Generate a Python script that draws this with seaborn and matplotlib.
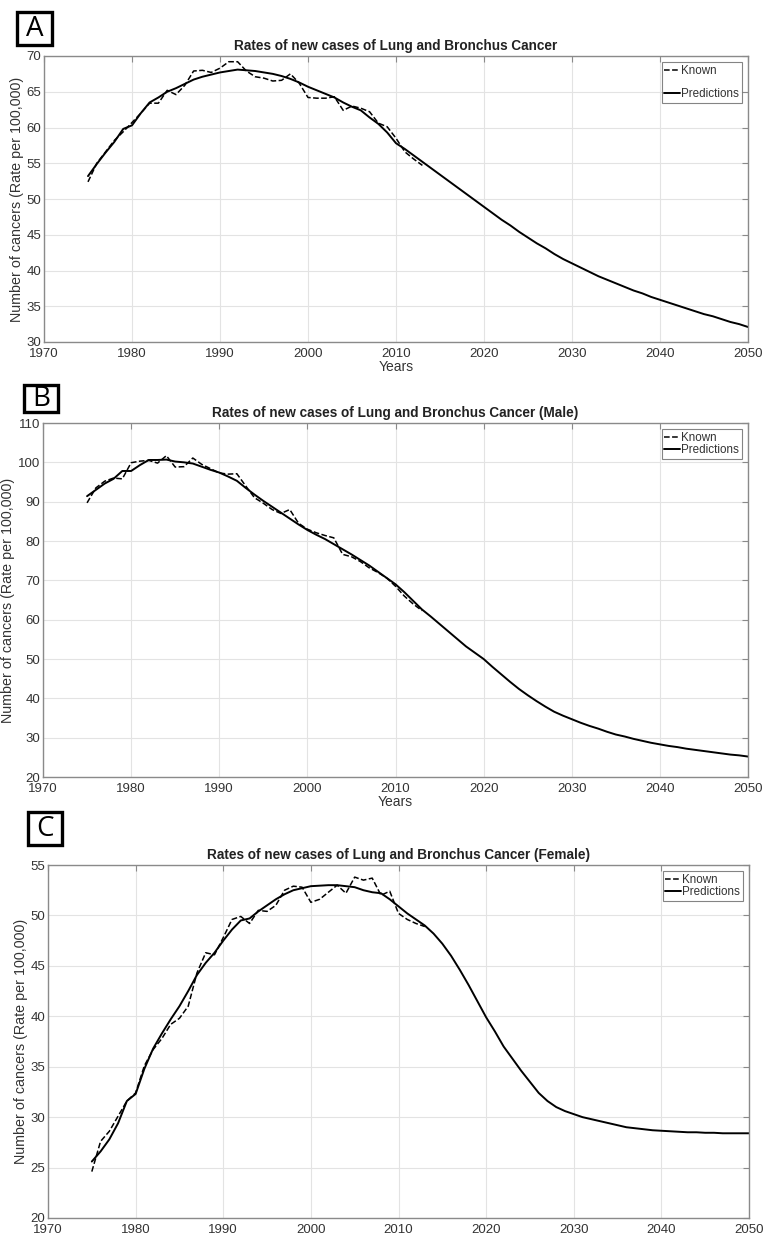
import numpy as np
import pandas as pd
import matplotlib
matplotlib.use("Agg")
import matplotlib.pyplot as plt
from matplotlib.patches import Rectangle
import seaborn as sns

# ---------------- data ----------------
known_years = list(range(1975, 2014))
pred_years = list(range(1975, 2051))

a_known = [52.4, 55.0, 56.6, 58.2, 59.4, 60.7, 62.0, 63.4, 63.4, 65.2,
           64.6, 65.9, 67.9, 68.0, 67.7, 68.3, 69.2, 69.2, 67.9, 67.1,
           66.9, 66.5, 66.6, 67.5, 66.2, 64.2, 64.1, 64.1, 64.3, 62.4,
           63.0, 62.7, 62.2, 60.6, 60.1, 58.5, 56.6, 55.6, 54.7]
a_pred = [53.2, 54.9, 56.5, 58.0, 59.8, 60.3, 62.0, 63.5, 64.2, 65.0,
          65.5, 66.1, 66.7, 67.1, 67.4, 67.7, 67.9, 68.1, 68.0, 67.9,
          67.7, 67.5, 67.2, 66.8, 66.3, 65.7, 65.2, 64.7, 64.2, 63.5,
          62.9, 62.4, 61.4, 60.5, 59.3, 57.8, 57.0, 56.1, 55.2, 54.3,
          53.4, 52.5, 51.6, 50.7, 49.8, 48.9, 48.0, 47.1, 46.3, 45.4,
          44.6, 43.8, 43.1, 42.3, 41.6, 41.0, 40.4, 39.8, 39.2, 38.7,
          38.2, 37.7, 37.2, 36.8, 36.3, 35.9, 35.5, 35.1, 34.7, 34.3,
          33.9, 33.6, 33.2, 32.8, 32.5, 32.1]

b_known = [89.7, 93.5, 95.2, 96.0, 95.8, 99.9, 100.3, 100.5, 99.8, 101.7,
           98.8, 98.9, 101.1, 99.5, 98.4, 97.3, 97.0, 97.1, 94.0, 91.0,
           89.6, 88.0, 87.0, 88.0, 84.5, 83.0, 82.1, 81.4, 80.8, 76.6,
           76.0, 74.8, 73.2, 72.0, 70.6, 68.5, 66.0, 64.0, 62.3]
b_pred = [91.4, 93.0, 94.6, 95.8, 97.8, 97.8, 99.3, 100.6, 100.6, 100.7,
          100.2, 100.0, 99.7, 98.9, 98.1, 97.4, 96.4, 95.3, 93.5, 91.8,
          90.2, 88.7, 87.2, 85.7, 84.2, 82.8, 81.6, 80.5, 79.2, 77.9,
          76.6, 75.2, 73.8, 72.2, 70.6, 69.0, 67.0, 64.8, 62.6, 60.8,
          58.9, 57.0, 55.1, 53.2, 51.6, 50.0, 48.0, 46.1, 44.2, 42.4,
          40.8, 39.3, 37.9, 36.6, 35.6, 34.7, 33.8, 33.0, 32.3, 31.5,
          30.8, 30.3, 29.7, 29.2, 28.7, 28.3, 27.9, 27.6, 27.2, 26.9,
          26.6, 26.3, 26.0, 25.7, 25.5, 25.2]

c_known = [24.6, 27.6, 28.6, 30.1, 31.6, 32.4, 35.1, 36.7, 37.8, 39.2,
           39.8, 41.0, 44.3, 46.3, 46.1, 47.8, 49.6, 49.9, 49.2, 50.5,
           50.4, 51.0, 52.5, 52.9, 52.8, 51.3, 51.6, 52.3, 53.0, 52.2,
           53.8, 53.5, 53.7, 52.0, 52.4, 50.2, 49.6, 49.2, 48.9]
c_pred = [25.6, 26.6, 27.8, 29.4, 31.6, 32.3, 34.8, 36.8, 38.3, 39.7,
          41.0, 42.5, 44.1, 45.3, 46.3, 47.5, 48.6, 49.5, 49.7, 50.4,
          51.0, 51.6, 52.1, 52.5, 52.7, 52.9, 52.95, 53.0, 53.0, 52.9,
          52.8, 52.5, 52.3, 52.2, 51.6, 50.9, 50.2, 49.6, 49.0, 48.2,
          47.2, 46.0, 44.6, 43.1, 41.5, 39.9, 38.5, 37.0, 35.8, 34.6,
          33.5, 32.4, 31.6, 31.0, 30.6, 30.3, 30.0, 29.8, 29.6, 29.4,
          29.2, 29.0, 28.9, 28.8, 28.7, 28.65, 28.6, 28.55, 28.5, 28.5,
          28.45, 28.45, 28.4, 28.4, 28.4, 28.4]

titles = ["Rates of new cases of Lung and Bronchus Cancer",
          "Rates of new cases of Lung and Bronchus Cancer (Male)",
          "Rates of new cases of Lung and Bronchus Cancer (Female)"]
panel_letters = ["A", "B", "C"]
y_limits = [(30, 70), (20, 110), (20, 55)]
y_steps = [5, 10, 5]
x_ticks = list(range(1970, 2051, 10))
ylabel_text = "Number of cancers (Rate per 100,000)"
xlabel_text = "Years"

# ---------------- style ----------------
sns.set_style("white")
plt.rcParams['font.family'] = ['Liberation Sans', 'DejaVu Sans']

fig = plt.figure(figsize=(7.63, 12.36), dpi=100)

W, H = 763.0, 1236.0
boxes = [  # left, top, right, bottom in pixels
    (44, 56, 748, 342),
    (43, 423, 748, 777),
    (48, 865, 749, 1218),
]
letter_boxes = [(17, 12, 52, 45), (24, 385, 58, 412), (28, 812, 62, 845)]
show_xlabel = [True, True, False]
legend_spacing = [0.95, 0.0, 0.0]

series = [(a_known, a_pred), (b_known, b_pred), (c_known, c_pred)]

for i in range(3):
    l, t, r, b = boxes[i]
    ax = fig.add_axes([l / W, 1 - b / H, (r - l) / W, (b - t) / H])
    kn, pr = series[i]
    df_k = pd.DataFrame({"Year": known_years, "Rate": kn})
    df_p = pd.DataFrame({"Year": pred_years, "Rate": pr})
    sns.lineplot(data=df_k, x="Year", y="Rate", ax=ax, color="black",
                 linestyle="--", linewidth=1.1, label="Known")
    sns.lineplot(data=df_p, x="Year", y="Rate", ax=ax, color="black",
                 linestyle="-", linewidth=1.4, label="Predictions")
    ax.set_xlim(1970, 2050)
    ax.set_ylim(*y_limits[i])
    ax.set_xticks(x_ticks)
    ax.set_yticks(np.arange(y_limits[i][0], y_limits[i][1] + 0.1, y_steps[i]))
    ax.grid(True, color="#e3e3e3", linewidth=0.8)
    ax.set_axisbelow(True)
    for sp in ax.spines.values():
        sp.set_color("#8a8a8a")
        sp.set_linewidth(1.0)
    ax.tick_params(axis="both", direction="in", length=4, width=0.8,
                   color="#8a8a8a", labelsize=9.5, labelcolor="#333333",
                   top=True, right=True)
    ax.tick_params(axis="x", pad=4)
    ax.tick_params(axis="y", pad=2)
    ax.set_title(titles[i], fontsize=9.8, fontweight="bold", color="#222222", pad=4)
    ax.set_ylabel(ylabel_text, fontsize=10.3, color="#333333", labelpad=2)
    if show_xlabel[i]:
        ax.set_xlabel(xlabel_text, fontsize=10, color="#333333", labelpad=0)
    else:
        ax.set_xlabel("")
    leg = ax.legend(loc="upper right", fontsize=8.4, frameon=True, fancybox=False,
                    edgecolor="#666666", handlelength=1.3, handletextpad=0.15,
                    borderpad=0.25, labelspacing=legend_spacing[i],
                    borderaxespad=0.5)
    leg.get_frame().set_linewidth(0.8)
    for txt in leg.get_texts():
        txt.set_color("#333333")

    bl, bt, br, bb = letter_boxes[i]
    fig.add_artist(Rectangle((bl / W, 1 - bb / H), (br - bl) / W, (bb - bt) / H,
                             transform=fig.transFigure, facecolor="white",
                             edgecolor="black", linewidth=2.4))
    fig.text((bl + br) / 2 / W, 1 - ((bt + bb) / 2 + 0.5) / H, panel_letters[i],
             fontsize=20, ha="center", va="center", color="black",
             family=["Open Sans", "DejaVu Sans"])

fig.savefig("out.png", dpi=100)
